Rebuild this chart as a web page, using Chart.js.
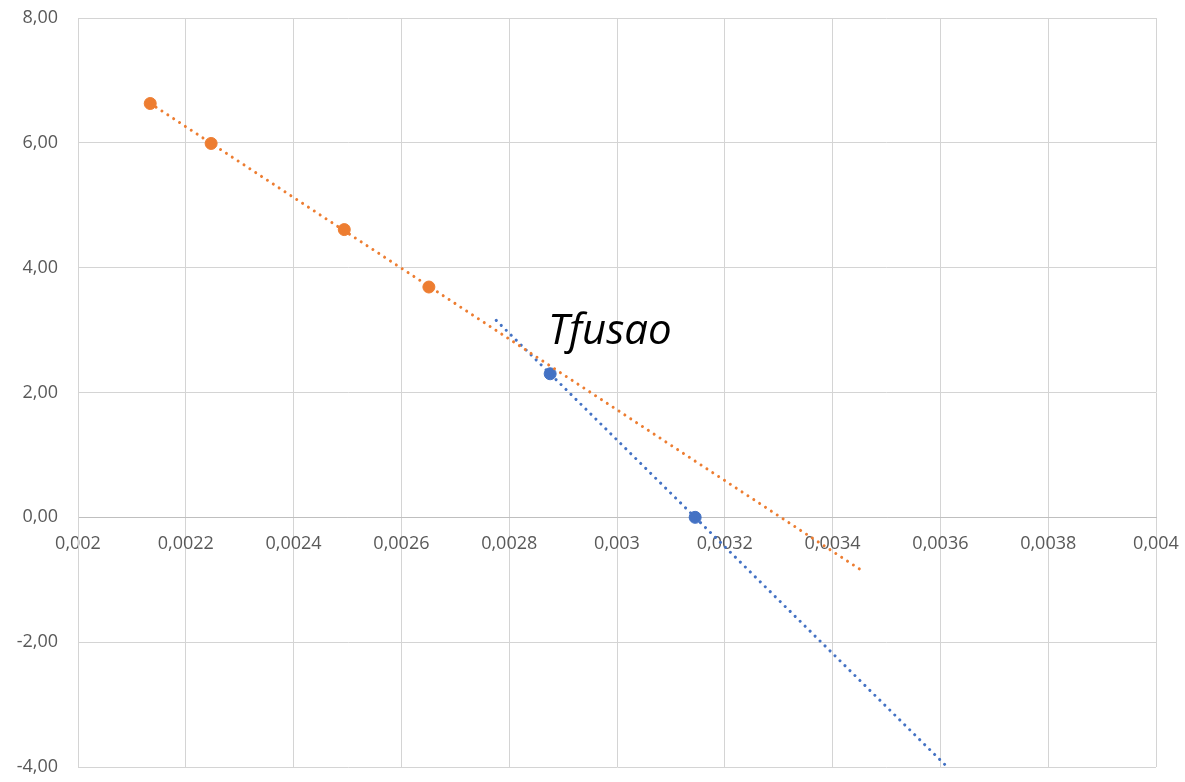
<!DOCTYPE html>
<html>
<head>
<meta charset="utf-8">
<script src="https://cdn.jsdelivr.net/npm/chart.js@4/dist/chart.umd.min.js"></script>
<style>
  html, body { margin: 0; padding: 0; background: #fff; }
  #wrap { width: 1185px; height: 782px; }
</style>
</head>
<body>
<div id="wrap"><canvas id="scatter" width="1185" height="782"></canvas></div>
<script>
// serie laranja / serie azul (1/T, ln P)
const orangeX = [0.002134, 0.002247, 0.002494, 0.002651];
const orangeY = [6.63, 5.99, 4.61, 3.69];
const blueX = [0.002876, 0.003145];
const blueY = [2.30, 0.00];

// trendline forecast (backward, forward) in x units
const orangeForecast = [0, 0.0008];
const blueForecast = [0.0001, 0.0005];

const xTicks = [0.002, 0.004, 0.0002]; // min, max, step
const yTicks = [-4, 8, 2];
const annotationText = "Tfusao";

const ORANGE = "#ED7D31";
const BLUE = "#4472C4";

function fit(xs, ys) {
  const n = xs.length;
  const mx = xs.reduce((a, b) => a + b, 0) / n;
  const my = ys.reduce((a, b) => a + b, 0) / n;
  let sxy = 0, sxx = 0;
  for (let i = 0; i < n; i++) {
    sxy += (xs[i] - mx) * (ys[i] - my);
    sxx += (xs[i] - mx) * (xs[i] - mx);
  }
  const slope = sxy / sxx;
  return { slope, intercept: my - slope * mx };
}

function trend(xs, ys, fc) {
  const f = fit(xs, ys);
  const x0 = Math.min(...xs) - fc[0];
  const x1 = Math.max(...xs) + fc[1];
  return [
    { x: x0, y: f.slope * x0 + f.intercept },
    { x: x1, y: f.slope * x1 + f.intercept }
  ];
}

const toPts = (xs, ys) => xs.map((x, i) => ({ x, y: ys[i] }));

const trendStyle = (color) => ({
  type: "line",
  showLine: true,
  borderColor: color,
  borderWidth: 3,
  borderDash: [0.01, 7],
  borderCapStyle: "round",
  pointRadius: 0,
  fill: false,
  order: 0
});

const labelPlugin = {
  id: "tfusao",
  afterDatasetsDraw(chart) {
    const ctx = chart.ctx;
    ctx.save();
    ctx.font = "italic 42px 'Open Sans'";
    ctx.fillStyle = "#000";
    ctx.textBaseline = "alphabetic";
    ctx.fillText(annotationText, 548, 344);
    ctx.restore();
  }
};

const fmt = (v, d) => v.toFixed(d).replace(".", ",");

new Chart(document.getElementById("scatter"), {
  type: "scatter",
  data: {
    datasets: [
      Object.assign({ data: trend(orangeX, orangeY, orangeForecast) }, trendStyle(ORANGE)),
      Object.assign({ data: trend(blueX, blueY, blueForecast) }, trendStyle(BLUE)),
      {
        data: toPts(orangeX, orangeY),
        backgroundColor: ORANGE,
        borderColor: ORANGE,
        pointRadius: 6,
        pointHoverRadius: 6,
        order: 1
      },
      {
        data: toPts(blueX, blueY),
        backgroundColor: BLUE,
        borderColor: BLUE,
        pointRadius: 6,
        pointHoverRadius: 6,
        order: 1
      }
    ]
  },
  options: {
    responsive: false,
    animation: false,
    layout: { padding: { left: 8, top: 18, right: 29, bottom: 15 } },
    plugins: { legend: { display: false }, tooltip: { enabled: false } },
    scales: {
      x: {
        type: "linear",
        position: { y: 0 },
        min: xTicks[0],
        max: xTicks[1],
        afterFit: (s) => { s.height = 0; s.paddingLeft = 0; s.paddingRight = 0; s.paddingTop = 0; s.paddingBottom = 0; },
        ticks: {
          stepSize: xTicks[2],
          padding: 16,
          color: "#595959",
          font: { family: "'Open Sans'", size: 18 },
          callback: (v) => String(Number(v.toFixed(4))).replace(".", ",")
        },
        grid: { color: "#d4d4d4", lineWidth: 1, drawTicks: false },
        border: { color: "#bfbfbf", width: 1 }
      },
      y: {
        min: yTicks[0],
        max: yTicks[1],
        afterFit: (s) => { s.width = 70; s.paddingTop = 0; s.paddingBottom = 0; },
        ticks: {
          stepSize: yTicks[2],
          padding: 20,
          color: "#595959",
          font: { family: "'Open Sans'", size: 18 },
          callback: (v) => fmt(v, 2)
        },
        grid: { color: "#d4d4d4", lineWidth: 1, drawTicks: false },
        border: { color: "#d4d4d4", width: 1 }
      }
    }
  },
  plugins: [labelPlugin]
});
</script>
</body>
</html>
